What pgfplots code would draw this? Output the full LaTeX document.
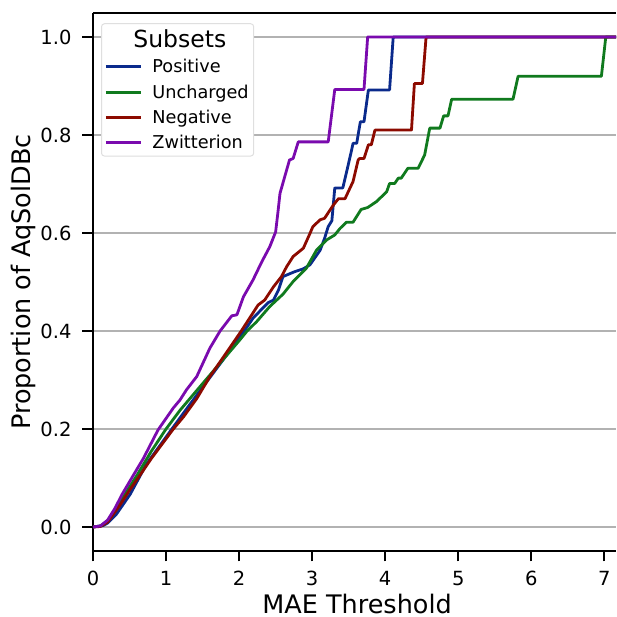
\documentclass[border=0pt]{standalone}
\usepackage{pgfplots}
\pgfplotsset{compat=1.18}
\usepackage{fontspec}
\setmainfont{DejaVu Sans}
\definecolor{cpos}{HTML}{0A2A8C}
\definecolor{cunc}{HTML}{107A1E}
\definecolor{cneg}{HTML}{8C0A00}
\definecolor{czwi}{HTML}{7A0AAE}
\begin{document}
\begin{tikzpicture}
\begin{axis}[
  scale only axis, width=523pt, height=538pt,
  xmin=0, xmax=7.16, ymin=-0.049, ymax=1.049,
  axis y line*=left,
  xtick pos=bottom, ytick pos=left,
  xtick={0,1,2,3,4,5,6,7},
  ytick={0,0.2,0.4,0.6,0.8,1.0},
  yticklabel style={xshift=-7.5pt, /pgf/number format/.cd, fixed, fixed zerofill, precision=1},
  /pgf/number format/assume math mode=true,
  tick label style={font=\fontsize{19.5}{23}\selectfont},
  xticklabel style={yshift=-6pt},
  tick align=outside, major tick length=10.5pt,
  tick style={line width=2.2pt, black},
  axis line style={line width=2.2pt},
  ymajorgrids, grid style={line width=1.7pt, color=gray!60},
  xlabel={MAE Threshold}, ylabel={Proportion of AqSolDBc},
  label style={font=\fontsize{25.5}{30}\selectfont},
  xlabel style={at={(axis description cs:0.505,-0.0795)}, anchor=north, inner sep=0pt, text depth=0pt},
  ylabel style={at={(axis description cs:-0.103,0.5)}, anchor=south},
  legend style={at={(rel axis cs:0.0153,0.981)}, anchor=north west,
    draw=gray!25, line width=1pt, rounded corners=3pt, fill=white,
    font=\fontsize{17.7}{21}\selectfont, inner xsep=3pt, inner ysep=4pt,
    row sep=6.3pt, column sep=8pt},
  legend cell align=left,
  legend image code/.code={\draw[#1, line width=2.9pt] (0pt,0pt) -- (35pt,0pt);},
]
\addlegendimage{empty legend}
\addlegendentry{\hspace*{-19pt}\fontsize{23.5}{28}\selectfont Subsets}

\addplot[color=cpos, line width=2.8pt, line join=round] coordinates {
(0,0) (0.14,0.003) (0.2,0.008) (0.32,0.026) (0.51,0.067) (0.73,0.128) (0.9,0.163)
(1.08,0.2) (1.3,0.245) (1.6,0.305) (1.8,0.345) (2.07,0.4) (2.19,0.426) (2.3,0.443)
(2.4,0.458) (2.47,0.463) (2.54,0.484) (2.6,0.511) (2.76,0.521) (2.88,0.527) (2.97,0.535)
(3.11,0.565) (3.17,0.589) (3.22,0.613) (3.27,0.625) (3.31,0.692) (3.42,0.692)
(3.48,0.73) (3.54,0.769) (3.56,0.783) (3.61,0.783) (3.66,0.827) (3.71,0.827)
(3.77,0.892) (4.06,0.892) (4.11,1.0) (7.2,1.0)
};
\addlegendentry{Positive}

\addplot[color=cunc, line width=2.8pt, line join=round] coordinates {
(0,0) (0.1,0.002) (0.2,0.012) (0.3,0.033) (0.4,0.058) (0.6,0.105) (0.8,0.155)
(1.0,0.2) (1.19,0.238) (1.4,0.275) (1.6,0.31) (1.8,0.345) (2.0,0.38) (2.11,0.4)
(2.24,0.419) (2.42,0.45) (2.6,0.475) (2.74,0.501) (2.92,0.528) (3.06,0.565)
(3.2,0.586) (3.31,0.596) (3.38,0.609) (3.47,0.622) (3.56,0.622) (3.67,0.648)
(3.76,0.652) (3.88,0.664) (4.02,0.684) (4.06,0.701) (4.13,0.701) (4.18,0.712)
(4.22,0.712) (4.31,0.732) (4.45,0.732) (4.54,0.759) (4.61,0.814) (4.75,0.814)
(4.80,0.839) (4.86,0.839) (4.91,0.873) (5.75,0.873) (5.82,0.920) (6.96,0.920)
(7.02,1.0) (7.2,1.0)
};
\addlegendentry{Uncharged}

\addplot[color=cneg, line width=2.8pt, line join=round] coordinates {
(0,0) (0.1,0.001) (0.2,0.01) (0.37,0.045) (0.5,0.075) (0.64,0.105) (0.8,0.14)
(1.0,0.18) (1.1,0.2) (1.24,0.225) (1.42,0.262) (1.6,0.307) (1.8,0.35) (2.03,0.4)
(2.26,0.453) (2.35,0.463) (2.47,0.49) (2.58,0.511) (2.65,0.531) (2.74,0.552)
(2.88,0.569) (2.97,0.599) (3.01,0.613) (3.11,0.627) (3.17,0.63) (3.29,0.657)
(3.36,0.67) (3.45,0.67) (3.56,0.705) (3.63,0.749) (3.65,0.752) (3.71,0.752)
(3.77,0.78) (3.81,0.78) (3.86,0.81) (4.36,0.81) (4.40,0.905) (4.51,0.905)
(4.56,1.0) (7.2,1.0)
};
\addlegendentry{Negative}

\addplot[color=czwi, line width=2.8pt, line join=round] coordinates {
(0,0) (0.1,0.002) (0.2,0.014) (0.3,0.038) (0.4,0.067) (0.55,0.105) (0.69,0.14)
(0.89,0.198) (1.10,0.243) (1.19,0.259) (1.28,0.28) (1.42,0.307) (1.6,0.365)
(1.74,0.4) (1.9,0.431) (1.97,0.433) (2.06,0.47) (2.19,0.504) (2.31,0.541)
(2.42,0.572) (2.5,0.602) (2.53,0.64) (2.56,0.681) (2.69,0.749) (2.74,0.752)
(2.81,0.786) (3.22,0.786) (3.31,0.893) (3.71,0.893) (3.76,1.0) (7.2,1.0)
};
\addlegendentry{Zwitterion}
\end{axis}
\pgfresetboundingbox
\path[use as bounding box] (-93pt,-66pt) rectangle (523pt,551pt);
\end{tikzpicture}
\end{document}
